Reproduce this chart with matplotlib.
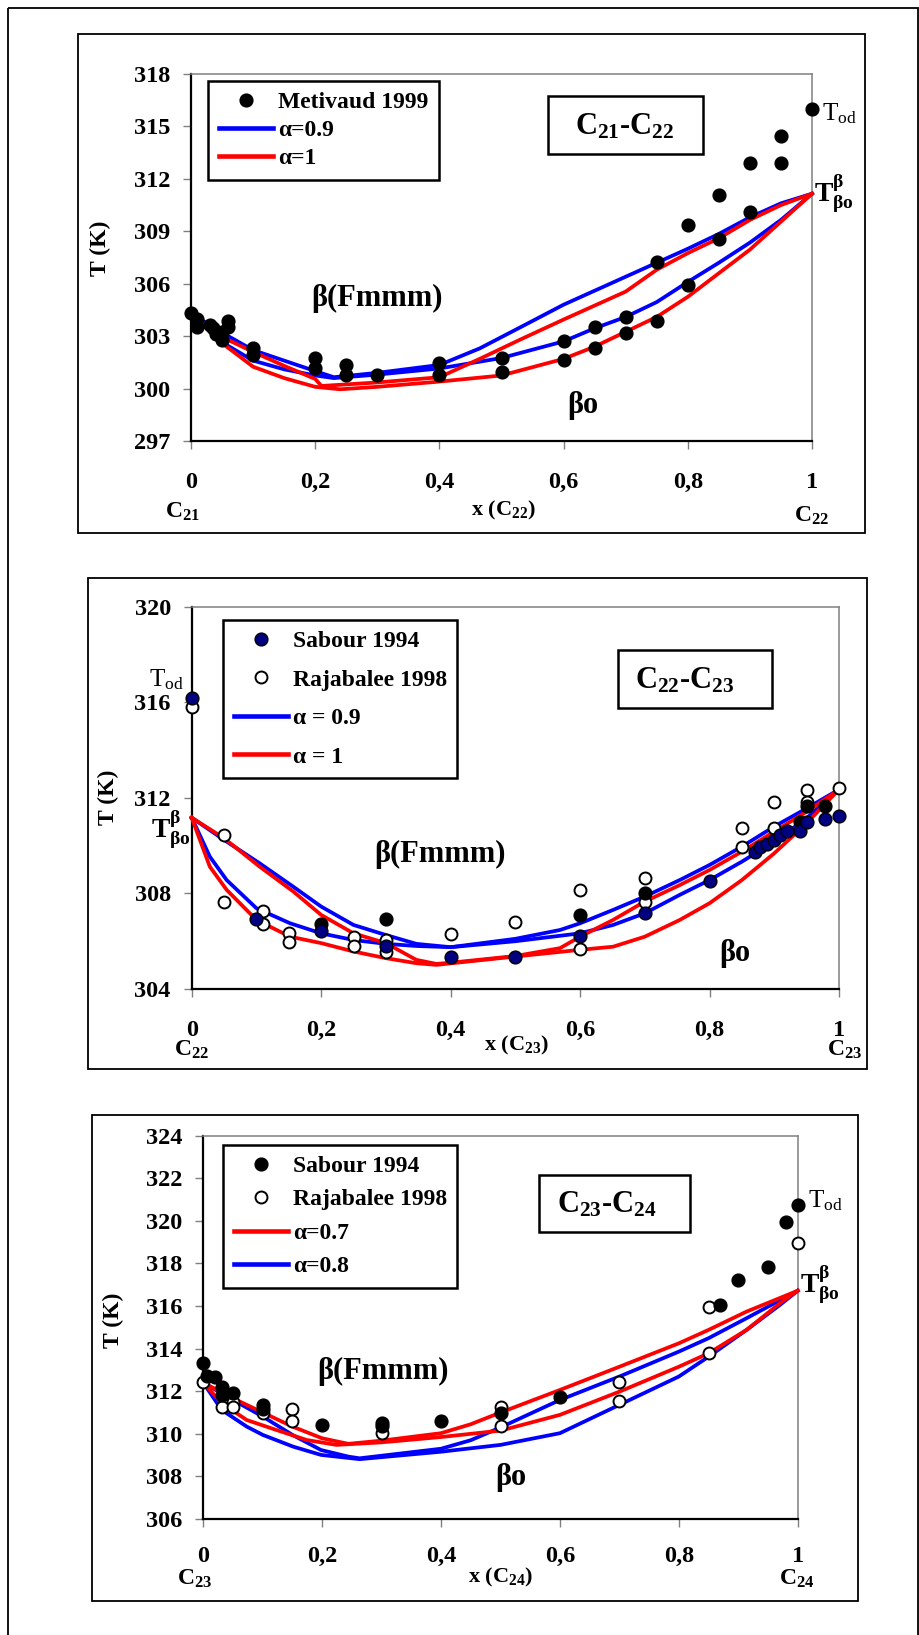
import matplotlib
matplotlib.use("Agg")
import matplotlib.pyplot as plt
from matplotlib.transforms import Affine2D
from matplotlib.patches import Rectangle
from matplotlib.lines import Line2D

plt.rcParams['font.family'] = ['Liberation Serif', 'DejaVu Serif']
plt.rcParams['font.weight'] = 'bold'
plt.rcParams['mathtext.fontset'] = 'custom'
plt.rcParams['mathtext.rm'] = 'Liberation Serif'
plt.rcParams['mathtext.bf'] = 'Liberation Serif:bold'
plt.rcParams['mathtext.it'] = 'Liberation Serif:italic'
plt.rcParams['mathtext.default'] = 'regular'

# ---------------- data: panel 1 (C21-C22) ----------------
met_x = [0, 0.01, 0.01, 0.03, 0.035, 0.04, 0.05, 0.05, 0.06, 0.06, 0.1, 0.1, 0.2, 0.2, 0.25, 0.25,
         0.3, 0.4, 0.4, 0.5, 0.5, 0.6, 0.6, 0.65, 0.65, 0.7, 0.7, 0.75, 0.75, 0.8, 0.8,
         0.85, 0.85, 0.9, 0.9, 0.95, 0.95, 1.0]
met_T = [304.3, 304.0, 303.55, 303.65, 303.45, 303.15, 303.25, 302.8, 303.85, 303.55, 302.35, 301.9,
         301.75, 301.15, 301.35, 300.75, 300.8, 301.45, 300.75, 301.75, 300.95, 302.75, 301.65,
         303.55, 302.3, 304.1, 303.2, 307.25, 303.85, 309.35, 305.95, 311.05, 308.55, 312.9,
         310.1, 314.45, 312.9, 316.0]

p1_blue_up_x = [0, 0.05, 0.1, 0.15, 0.2, 0.23, 0.3, 0.4, 0.465, 0.53, 0.6, 0.7, 0.75, 0.8, 0.85, 0.9, 0.95, 1.0]
p1_blue_up_T = [304.3, 303.2, 302.2, 301.6, 301.0, 300.65, 300.9, 301.35, 302.3, 303.5, 304.8, 306.4,
                307.2, 308.0, 308.85, 309.8, 310.6, 311.15]
p1_blue_lo_x = [0, 0.05, 0.1, 0.15, 0.2, 0.23, 0.3, 0.4, 0.5, 0.6, 0.65, 0.7, 0.75, 0.8, 0.85, 0.9, 0.95, 1.0]
p1_blue_lo_T = [304.3, 302.65, 301.6, 301.1, 300.75, 300.6, 300.8, 301.15, 301.75, 302.7, 303.45,
                304.1, 304.95, 306.1, 307.2, 308.35, 309.65, 311.15]
p1_red_up_x = [0, 0.05, 0.1, 0.15, 0.2, 0.21, 0.3, 0.4, 0.465, 0.53, 0.6, 0.7, 0.75, 0.8, 0.85, 0.9, 0.95, 1.0]
p1_red_up_T = [304.3, 302.95, 302.1, 301.3, 300.55, 300.15, 300.35, 300.65, 301.7, 302.8, 303.95,
               305.55, 306.8, 307.75, 308.6, 309.65, 310.5, 311.15]
p1_red_lo_x = [0, 0.05, 0.1, 0.15, 0.2, 0.24, 0.3, 0.4, 0.5, 0.6, 0.65, 0.7, 0.75, 0.8, 0.85, 0.9, 0.95, 1.0]
p1_red_lo_T = [304.3, 302.6, 301.25, 300.6, 300.1, 299.96, 300.1, 300.4, 300.75, 301.7, 302.4,
               303.25, 304.1, 305.25, 306.6, 307.95, 309.55, 311.15]

# ---------------- data: panel 2 (C22-C23) ----------------
sab2_x = [0, 0.1, 0.2, 0.3, 0.4, 0.5, 0.6, 0.7, 0.8, 0.87, 0.878, 0.889, 0.899, 0.909, 0.919,
          0.94, 0.95, 0.978, 1.0]
sab2_T = [316.17, 306.92, 306.44, 305.8, 305.33, 305.33, 306.22, 307.2, 308.54, 309.72, 309.93,
          310.07, 310.24, 310.45, 310.63, 310.63, 311.0, 311.1, 311.26]
sab2b_x = [0.2, 0.3, 0.6, 0.7, 0.94, 0.95, 0.978]
sab2b_T = [306.71, 306.93, 307.1, 308.0, 311.0, 311.66, 311.66]
raj2_x = [0, 0.05, 0.05, 0.11, 0.11, 0.15, 0.15, 0.25, 0.25, 0.3, 0.3, 0.4, 0.5, 0.6, 0.6,
          0.7, 0.7, 0.85, 0.85, 0.9, 0.9, 0.95, 0.95, 1.0]
raj2_T = [315.82, 310.45, 307.66, 307.28, 306.71, 306.33, 305.98, 306.17, 305.8, 306.03, 305.56,
          306.3, 306.79, 308.15, 305.67, 308.64, 307.66, 310.73, 309.93, 311.84, 310.73,
          312.33, 311.84, 312.4]

p2_blue_up_x = [0, 0.05, 0.105, 0.157, 0.2, 0.25, 0.3, 0.347, 0.4, 0.5, 0.569, 0.6, 0.651, 0.7,
                0.754, 0.8, 0.85, 0.9, 0.95, 1.0]
p2_blue_up_T = [311.17, 310.24, 309.26, 308.28, 307.45, 306.68, 306.26, 305.89, 305.75, 306.1,
                306.47, 306.75, 307.31, 307.87, 308.56, 309.19, 309.96, 310.8, 311.56, 312.35]
p2_blue_lo_x = [0, 0.028, 0.054, 0.1, 0.152, 0.2, 0.25, 0.3, 0.347, 0.4, 0.5, 0.6, 0.651, 0.7,
                0.754, 0.8, 0.85, 0.9, 0.95, 1.0]
p2_blue_lo_T = [311.17, 309.54, 308.56, 307.38, 306.75, 306.33, 306.05, 305.89, 305.8, 305.75,
                306.0, 306.33, 306.68, 307.17, 307.94, 308.56, 309.33, 310.17, 311.15, 312.35]
p2_red_up_x = [0, 0.05, 0.105, 0.157, 0.2, 0.25, 0.3, 0.347, 0.378, 0.4, 0.5, 0.569, 0.6, 0.651,
               0.7, 0.754, 0.8, 0.85, 0.9, 0.95, 1.0]
p2_red_up_T = [311.17, 310.31, 309.12, 308.08, 307.1, 306.33, 305.92, 305.22, 305.05, 305.1,
               305.38, 305.71, 306.19, 306.89, 307.66, 308.35, 308.98, 309.75, 310.59, 311.42, 312.35]
p2_red_lo_x = [0, 0.028, 0.054, 0.1, 0.152, 0.2, 0.25, 0.3, 0.347, 0.378, 0.5, 0.6, 0.651, 0.7,
               0.754, 0.8, 0.85, 0.9, 0.95, 1.0]
p2_red_lo_T = [311.17, 309.12, 308.15, 306.89, 306.19, 305.92, 305.57, 305.29, 305.08, 305.01,
               305.36, 305.64, 305.77, 306.19, 306.89, 307.59, 308.56, 309.68, 310.94, 312.35]

# ---------------- data: panel 3 (C23-C24) ----------------
sab3_x = [0, 0.006, 0.02, 0.031, 0.031, 0.05, 0.1, 0.1, 0.2, 0.3, 0.3, 0.4, 0.5, 0.6, 0.87,
          0.9, 0.95, 0.98, 1.0]
sab3_T = [313.34, 312.72, 312.66, 312.22, 311.83, 311.93, 311.36, 311.15, 310.42, 310.53, 310.35,
          310.6, 310.97, 311.75, 316.05, 317.23, 317.85, 319.96, 320.75]
raj3_x = [0, 0.031, 0.05, 0.05, 0.1, 0.15, 0.15, 0.3, 0.5, 0.5, 0.7, 0.7, 0.85, 0.85, 1.0]
raj3_T = [312.45, 311.25, 311.51, 311.25, 310.97, 311.15, 310.6, 310.06, 311.25, 310.37, 312.45,
          311.56, 315.97, 313.78, 318.98]

p3_red_up_x = [0, 0.05, 0.1, 0.15, 0.2, 0.244, 0.3, 0.4, 0.45, 0.5, 0.6, 0.7, 0.8, 0.85, 0.914, 1.0]
p3_red_up_T = [312.4, 311.67, 311.0, 310.34, 309.79, 309.53, 309.68, 310.03, 310.45, 311.0,
               312.06, 313.15, 314.25, 314.88, 315.74, 316.72]
p3_red_lo_x = [0, 0.031, 0.073, 0.123, 0.174, 0.224, 0.3, 0.4, 0.5, 0.6, 0.7, 0.8, 0.85, 0.914, 0.97, 1.0]
p3_red_lo_T = [312.4, 311.44, 310.65, 310.18, 309.71, 309.48, 309.6, 309.85, 310.15, 310.89,
               311.98, 313.15, 313.78, 314.88, 316.13, 316.72]
p3_blue_up_x = [0, 0.05, 0.1, 0.15, 0.198, 0.244, 0.263, 0.4, 0.45, 0.5, 0.6, 0.7, 0.8, 0.85, 0.914, 1.0]
p3_blue_up_T = [312.4, 311.59, 310.81, 309.95, 309.24, 308.93, 308.85, 309.3, 309.7, 310.3,
                311.59, 312.69, 313.86, 314.49, 315.43, 316.72]
p3_blue_lo_x = [0, 0.031, 0.073, 0.1, 0.151, 0.198, 0.263, 0.4, 0.5, 0.6, 0.7, 0.8, 0.85, 0.914, 0.97, 1.0]
p3_blue_lo_T = [312.4, 311.12, 310.34, 309.95, 309.4, 309.01, 308.81, 309.16, 309.48, 310.03,
                311.36, 312.69, 313.62, 314.88, 316.05, 316.72]

x_ticks = [0, 0.2, 0.4, 0.6, 0.8, 1.0]
x_ticklabels = ['0', '0,2', '0,4', '0,6', '0,8', '1']
p1_yticks = [297, 300, 303, 306, 309, 312, 315, 318]
p2_yticks = [304, 308, 312, 316, 320]
p3_yticks = [306, 308, 310, 312, 314, 316, 318, 320, 322, 324]

# ---------------- figure ----------------
W, H = 919, 1635
fig = plt.figure(figsize=(W / 100, H / 100), dpi=100)
pix = Affine2D().scale(1 / W, -1 / H).translate(0, 1) + fig.transFigure

BLUE = '#0000FF'
RED = '#FF0000'
NAVY = '#000080'
LW = 2.7


def rect(x0, y0, x1, y1, lw=1.3, z=1, fill=False):
    r = Rectangle((x0, y0), x1 - x0, y1 - y0, transform=pix, fill=fill, fc='white',
                  ec='black', lw=lw, zorder=z)
    fig.add_artist(r)


def txt(x, y, s, size, weight='bold', ha='center', va='center', rot=0, z=6):
    fig.text(x, y, s, transform=pix, fontsize=size, fontweight=weight, ha=ha, va=va,
             rotation=rot, zorder=z, family='Liberation Serif')


def add_ax(x0, y0, x1, y1, ylim, yticks, xpad):
    ax = fig.add_axes([x0 / W, 1 - y1 / H, (x1 - x0) / W, (y1 - y0) / H])
    ax.set_xlim(0, 1)
    ax.set_ylim(*ylim)
    ax.set_xticks(x_ticks)
    ax.set_xticklabels(x_ticklabels)
    ax.set_yticks(yticks)
    for side in ['left', 'bottom']:
        ax.spines[side].set_color('black')
        ax.spines[side].set_linewidth(1.6)
    for side in ['top', 'right']:
        ax.spines[side].set_color('#808080')
        ax.spines[side].set_linewidth(1.1)
    ax.tick_params(axis='both', direction='out', length=5.5, width=1.0, color='#808080',
                   labelsize=17.5)
    ax.tick_params(axis='x', pad=xpad)
    ax.tick_params(axis='y', pad=9.5)
    for lab in ax.get_xticklabels() + ax.get_yticklabels():
        lab.set_fontweight('bold')
    return ax


def curve(ax, x, T, c):
    ax.plot(x, T, color=c, lw=LW, clip_on=False, solid_joinstyle='round', zorder=3)


def dots(ax, x, T, fc, ms=9.2, mew=1.0):
    ax.plot(x, T, 'o', ms=ms, mfc=fc, mec='black', mew=mew, ls='none', clip_on=False, zorder=4)


def circles(ax, x, T):
    ax.plot(x, T, 'o', ms=8.6, mfc='white', mec='black', mew=1.4, ls='none', clip_on=False, zorder=4)


legprops = dict(family='Liberation Serif', weight='bold', size=17)


def legend(ax, handles, labels, x, y, spacing):
    leg = ax.legend(handles, labels, loc='upper left', bbox_to_anchor=(x, y), bbox_transform=pix,
                    borderaxespad=0, frameon=True, fancybox=False, edgecolor='black', framealpha=1,
                    prop=legprops, handlelength=2.3, handletextpad=0.2, borderpad=0.45,
                    labelspacing=spacing, numpoints=1)
    leg.get_frame().set_linewidth(1.8)
    leg.set_zorder(10)
    return leg


h_black = Line2D([], [], marker='o', ls='none', ms=9.2, mfc='black', mec='black')
h_navy = Line2D([], [], marker='o', ls='none', ms=9.2, mfc=NAVY, mec='black')
h_open = Line2D([], [], marker='o', ls='none', ms=8.6, mfc='white', mec='black', mew=1.4)
h_blue = Line2D([], [], color=BLUE, lw=LW + 0.6)
h_red = Line2D([], [], color=RED, lw=LW + 0.6)

# outer frame
rect(8, 8, 918, 1645, lw=1.3)

# ================= panel 1 =================
rect(78, 34, 865, 533)
ax1 = add_ax(191, 74, 812, 441, (297, 318), p1_yticks, 16.5)
curve(ax1, p1_blue_up_x, p1_blue_up_T, BLUE)
curve(ax1, p1_blue_lo_x, p1_blue_lo_T, BLUE)
curve(ax1, p1_red_up_x, p1_red_up_T, RED)
curve(ax1, p1_red_lo_x, p1_red_lo_T, RED)
dots(ax1, met_x, met_T, 'black')
legend(ax1, [h_black, h_blue, h_red], ['Metivaud 1999', 'α=0.9', 'α=1'], 208, 81, 0.28)
rect(548, 96, 703, 154, lw=1.8, z=5, fill=True)
txt(625, 127, r'C$_{21}$-C$_{22}$', 22)
txt(377, 298, 'β(Fmmm)', 22)
txt(583, 405, 'βo', 22)
txt(100, 248, 'T (K)', 17, rot=90)
txt(503, 510, r'x (C$_{22}$)', 16)
txt(183, 512, r'C$_{21}$', 17)
txt(812, 516, r'C$_{22}$', 17)
txt(822, 114, r'T$_{od}$', 18, weight='normal', ha='left')
txt(814, 194, r'T$^{\beta}_{\beta o}$', 20, ha='left')

# ================= panel 2 =================
rect(88, 578, 867, 1069)
ax2 = add_ax(191.7, 606.7, 839, 989, (304, 320), p2_yticks, 16.5)
curve(ax2, p2_blue_up_x, p2_blue_up_T, BLUE)
curve(ax2, p2_blue_lo_x, p2_blue_lo_T, BLUE)
curve(ax2, p2_red_up_x, p2_red_up_T, RED)
curve(ax2, p2_red_lo_x, p2_red_lo_T, RED)
circles(ax2, raj2_x, raj2_T)
dots(ax2, sab2b_x, sab2b_T, 'black')
dots(ax2, sab2_x, sab2_T, NAVY)
legend(ax2, [h_navy, h_open, h_blue, h_red],
       ['Sabour 1994', 'Rajabalee 1998', 'α = 0.9', 'α = 1'], 223, 620, 0.72)
rect(618, 650, 772, 708, lw=1.8, z=5, fill=True)
txt(685, 681, r'C$_{22}$-C$_{23}$', 22)
txt(440, 854, 'β(Fmmm)', 22)
txt(735, 954, 'βo', 22)
txt(108, 797, 'T (K)', 17, rot=90)
txt(516, 1045, r'x (C$_{23}$)', 16)
txt(192, 1050, r'C$_{22}$', 17)
txt(845, 1050, r'C$_{23}$', 17)
txt(149, 680, r'T$_{od}$', 18, weight='normal', ha='left')
txt(151, 830, r'T$^{\beta}_{\beta o}$', 20, ha='left')

# ================= panel 3 =================
rect(92, 1115, 858, 1601)
ax3 = add_ax(203.3, 1135.7, 797.7, 1519, (306, 324), p3_yticks, 14)
curve(ax3, p3_blue_up_x, p3_blue_up_T, BLUE)
curve(ax3, p3_blue_lo_x, p3_blue_lo_T, BLUE)
curve(ax3, p3_red_up_x, p3_red_up_T, RED)
curve(ax3, p3_red_lo_x, p3_red_lo_T, RED)
circles(ax3, raj3_x, raj3_T)
dots(ax3, sab3_x, sab3_T, 'black')
legend(ax3, [h_black, h_open, h_red, h_blue],
       ['Sabour 1994', 'Rajabalee 1998', 'α=0.7', 'α=0.8'], 223, 1145, 0.5)
rect(539, 1175, 690, 1232, lw=1.8, z=5, fill=True)
txt(607, 1205, r'C$_{23}$-C$_{24}$', 22)
txt(383, 1371, 'β(Fmmm)', 22)
txt(511, 1477, 'βo', 22)
txt(113, 1320, 'T (K)', 17, rot=90)
txt(500, 1577, r'x (C$_{24}$)', 16)
txt(195, 1579, r'C$_{23}$', 17)
txt(797, 1579, r'C$_{24}$', 17)
txt(808, 1201, r'T$_{od}$', 18, weight='normal', ha='left')
txt(800, 1285, r'T$^{\beta}_{\beta o}$', 20, ha='left')

fig.savefig('out.png', dpi=100)
